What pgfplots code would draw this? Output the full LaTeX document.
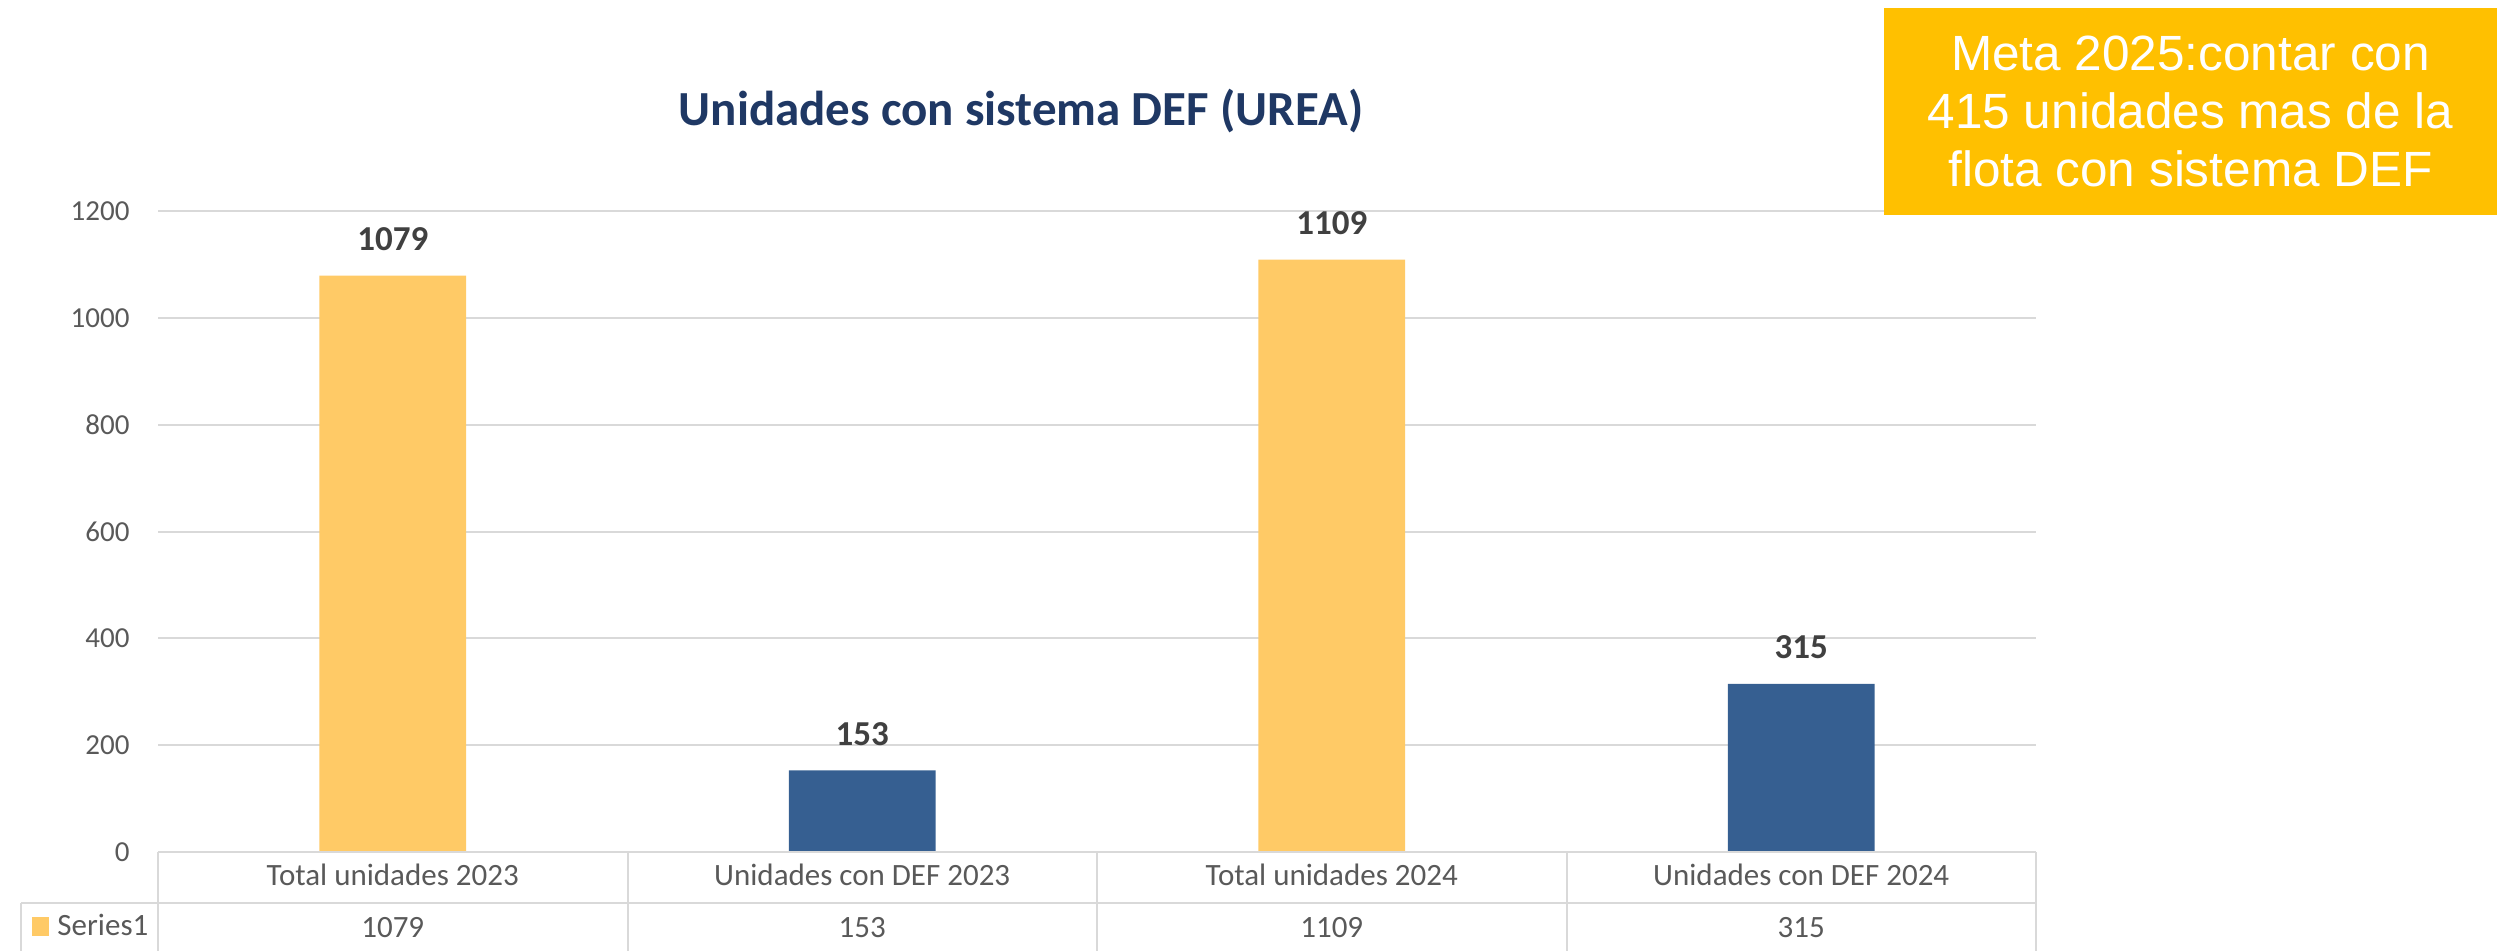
\documentclass[border=0pt]{standalone}
\usepackage{fontspec}
\setmainfont{Carlito}
\newfontfamily\arialfont{Liberation Sans}
\usepackage{pgfplots}
\pgfplotsset{compat=1.18}
\definecolor{barYellow}{HTML}{FFCA66}
\definecolor{barBlue}{HTML}{365F91}
\definecolor{boxYellow}{HTML}{FFC000}
\definecolor{titleBlue}{HTML}{1F3864}
\definecolor{gridGray}{HTML}{D9D9D9}
\definecolor{tickGray}{HTML}{595959}
\definecolor{labGray}{HTML}{404040}
\begin{document}
\begin{tikzpicture}
\useasboundingbox (0pt,0pt) rectangle (998.8pt,-380.4pt);
\begin{axis}[
  at={(63.2pt,-340.8pt)}, anchor=south west,
  scale only axis, width=751.2pt, height=256.4pt,
  xmin=-0.5, xmax=3.5, ymin=0, ymax=1200,
  ytick={0,200,...,1200},
  xtick={0,1,2,3},
  xticklabels={Total unidades 2023, Unidades con DEF 2023, Total unidades 2024, Unidades con DEF 2024},
  axis line style={draw=none},
  major tick length=0pt,
  ymajorgrids, grid style={gridGray, line width=0.8pt},
  /pgf/number format/assume math mode=true,
  /pgf/number format/1000 sep={},
  yticklabel style={anchor=east, inner sep=0pt, xshift=-11.2pt, text=tickGray, font=\fontsize{11.6}{14}\selectfont},
  xticklabel style={anchor=base, inner sep=0pt, yshift=-13.2pt, text=tickGray, font=\fontsize{12.4}{15}\selectfont},
  clip=false,
]
\addplot[ybar, bar width=0.313, bar shift=0pt, fill=barYellow, draw=none,
  nodes near coords, point meta=y,
  every node near coord/.style={anchor=south, inner sep=0pt, yshift=9.8pt, text=labGray, font=\bfseries\fontsize{14}{16}\selectfont}]
  coordinates {(0,1079) (2,1109)};
\addplot[ybar, bar width=0.313, bar shift=0pt, fill=barBlue, draw=none,
  nodes near coords, point meta=y,
  every node near coord/.style={anchor=south, inner sep=0pt, yshift=9.8pt, text=labGray, font=\bfseries\fontsize{14}{16}\selectfont}]
  coordinates {(1,153) (3,315)};
\addplot[draw=none, mark=none, forget plot,
  nodes near coords, point meta=explicit symbolic,
  every node near coord/.style={anchor=base, inner sep=0pt, yshift=-34pt, text=tickGray, font=\fontsize{12.4}{15}\selectfont}]
  coordinates {(0,0) [1079] (1,0) [153] (2,0) [1109] (3,0) [315]};
\end{axis}
% data table lines
\begin{scope}[draw=gridGray, line width=0.8pt]
\draw (63.2pt,-340.8pt) -- (814.4pt,-340.8pt);
\draw (8.4pt,-361.2pt) -- (814.4pt,-361.2pt);
\draw (8.4pt,-361.2pt) -- (8.4pt,-380.4pt);
\foreach \xx in {63.2,251.0,438.8,626.6,814.4} {\draw (\xx pt,-340.8pt) -- (\xx pt,-380.4pt);}
\end{scope}
\fill[barYellow] (12.8pt,-366.8pt) rectangle (19.6pt,-374.4pt);
\node[anchor=base west, inner sep=0pt, text=tickGray, font=\fontsize{12.4}{15}\selectfont] at (22.8pt,-374.2pt) {Series1};
% title
\node[anchor=base, inner sep=0pt, text=titleBlue, font=\bfseries\fontsize{19.6}{22}\selectfont] at (408.4pt,-50pt) {Unidades con sistema DEF (UREA)};
% box
\fill[boxYellow] (753.6pt,-3.2pt) rectangle (998.8pt,-86pt);
\node[align=center, inner sep=0pt, text=white, font=\arialfont\fontsize{19.8}{23.2}\selectfont] at (876.2pt,-44.4pt) {Meta 2025:contar con\\415 unidades mas de la\\flota con sistema DEF};
\end{tikzpicture}
\end{document}
